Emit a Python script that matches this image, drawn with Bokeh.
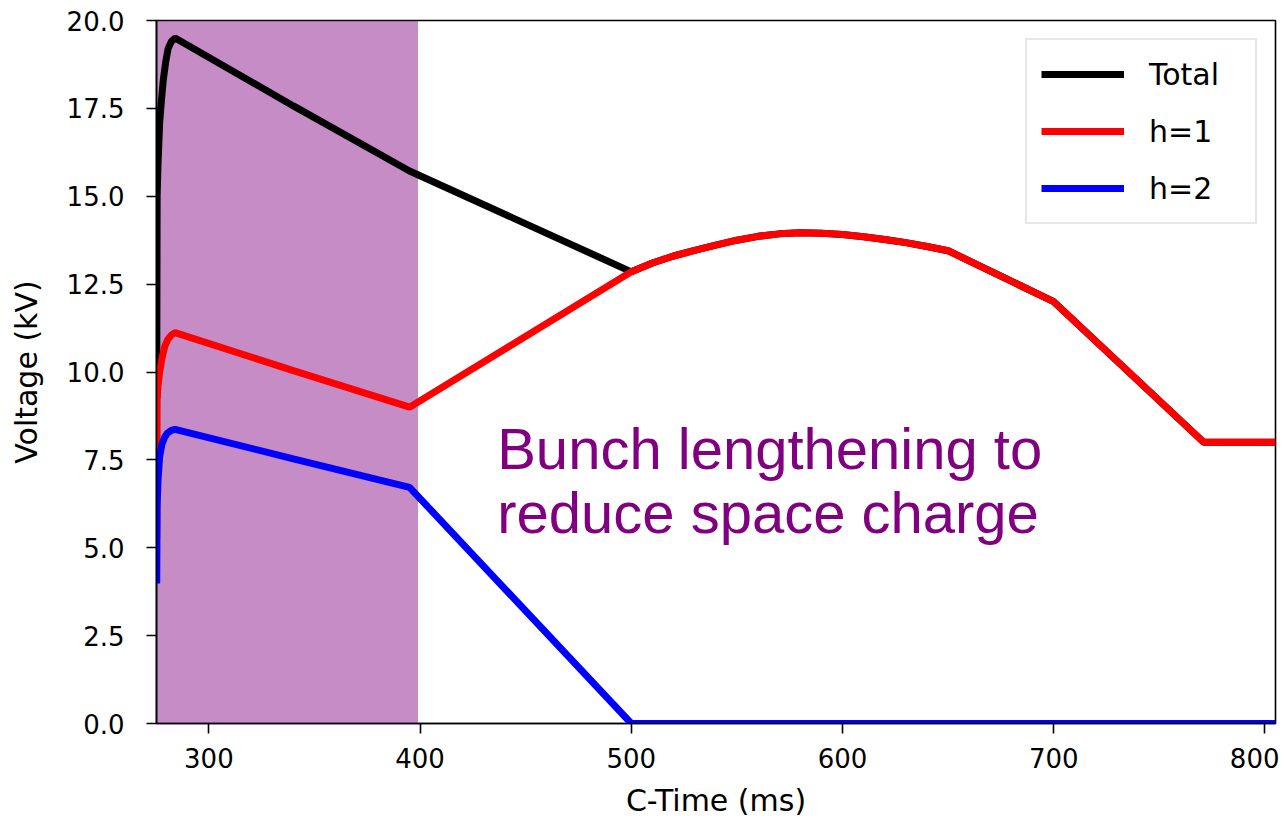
from bokeh.plotting import figure
from bokeh.models import Range1d, FixedTicker, Label, Legend, LegendItem, BoxAnnotation, NumeralTickFormatter
from bokeh.embed import file_html
from bokeh.resources import INLINE

# ---- data ----
total_x = [275.3, 275.5, 275.9, 276.7, 277.5, 278.4, 279.5, 280.7, 282.2, 284.0, 340, 395,
           500, 510, 520, 530, 540, 550, 560, 570, 580, 590, 600, 610, 620, 630, 640, 650, 700, 771, 805]
total_y = [9.25, 15.0, 15.9, 17.1, 17.7, 18.3, 18.8, 19.2, 19.4, 19.5, 17.57, 15.72,
           12.85, 13.1, 13.3, 13.46, 13.61, 13.75, 13.86, 13.93, 13.96, 13.95, 13.91, 13.85, 13.77, 13.68, 13.57, 13.45,
           12.0, 8.0, 8.0]

h1_x = [275.3, 275.5, 275.9, 276.7, 277.8, 279.1, 280.5, 282.2, 284.0, 340, 395,
        500, 510, 520, 530, 540, 550, 560, 570, 580, 590, 600, 610, 620, 630, 640, 650, 700, 771, 805]
h1_y = [5.3, 9.2, 9.6, 10.0, 10.4, 10.72, 10.92, 11.05, 11.12, 10.04, 9.0,
        12.85, 13.1, 13.3, 13.46, 13.61, 13.75, 13.86, 13.93, 13.96, 13.95, 13.91, 13.85, 13.77, 13.68, 13.57, 13.45,
        12.0, 8.0, 8.0]

h2_x = [275.3, 275.5, 275.9, 276.7, 277.8, 279.1, 280.5, 282.2, 284.0, 340, 395, 500, 805]
h2_y = [3.98, 6.2, 6.9, 7.6, 7.95, 8.15, 8.27, 8.34, 8.37, 7.53, 6.72, 0.0, 0.0]

series_labels = ["Total", "h=1", "h=2"]
x_ticks = [300, 400, 500, 600, 700, 800]
y_ticks = [0, 2.5, 5, 7.5, 10, 12.5, 15, 17.5, 20]
shade_start, shade_end = 275.2, 399
annotation_lines = ["Bunch lengthening to", "reduce space charge"]

# ---- figure ----
p = figure(width=1279, height=820, output_backend="svg", toolbar_location=None,
           x_range=Range1d(275.2, 805), y_range=Range1d(0, 20),
           min_border_left=156, min_border_top=20, min_border_right=4, min_border_bottom=97)
p.xgrid.visible = False
p.ygrid.visible = False
p.outline_line_color = "black"
p.outline_line_width = 1.6
p.background_fill_color = "white"

p.add_layout(BoxAnnotation(left=shade_start, right=shade_end, fill_color="purple",
                           fill_alpha=0.45, line_color=None, level="underlay"))

r_tot = p.line(total_x, total_y, line_color="black", line_width=7)
r_h1 = p.line(h1_x, h1_y, line_color="red", line_width=7)
r_h2 = p.line(h2_x, h2_y, line_color="blue", line_width=7)

for ax in (p.xaxis[0], p.yaxis[0]):
    ax.axis_line_width = 1.6
    ax.major_tick_line_width = 1.6
    ax.major_tick_out = 10
    ax.major_tick_in = 0
    ax.minor_tick_line_color = None
    ax.major_label_text_font = "DejaVu Sans"
    ax.major_label_text_font_size = "26px"
    ax.major_label_text_color = "black"
    ax.axis_label_text_font = "DejaVu Sans"
    ax.axis_label_text_font_size = "30px"
    ax.axis_label_text_font_style = "normal"
    ax.axis_label_text_color = "black"

p.xaxis.ticker = FixedTicker(ticks=x_ticks)
p.yaxis.ticker = FixedTicker(ticks=y_ticks)
p.yaxis.formatter = NumeralTickFormatter(format="0.0")
p.xaxis.axis_label = "C-Time (ms)"
p.yaxis.axis_label = "Voltage (kV)"
p.xaxis.major_label_standoff = 14
p.yaxis.major_label_standoff = 22
p.xaxis.axis_label_standoff = 12
p.yaxis.axis_label_standoff = 20

legend = Legend(items=[LegendItem(label=series_labels[0], renderers=[r_tot]),
                       LegendItem(label=series_labels[1], renderers=[r_h1]),
                       LegendItem(label=series_labels[2], renderers=[r_h2])],
                location="top_right")
legend.label_text_font = "DejaVu Sans"
legend.label_text_font_size = "30px"
legend.label_text_color = "black"
legend.glyph_width = 83
legend.glyph_height = 40
legend.label_height = 40
legend.label_width = 92
legend.label_standoff = 25
legend.spacing = 17
legend.padding = 14
legend.margin = 18
legend.border_line_color = "#d0d0d0"
legend.border_line_width = 2
legend.background_fill_alpha = 0.8
p.add_layout(legend)

for txt, yv in zip(annotation_lines, [7.82, 6.0]):
    p.add_layout(Label(x=436.5, y=yv, text=txt, text_font="Liberation Sans",
                       text_font_size="58px", text_color="purple",
                       text_baseline="alphabetic", text_align="left"))

open("out.html", "w").write(file_html(p, INLINE))
